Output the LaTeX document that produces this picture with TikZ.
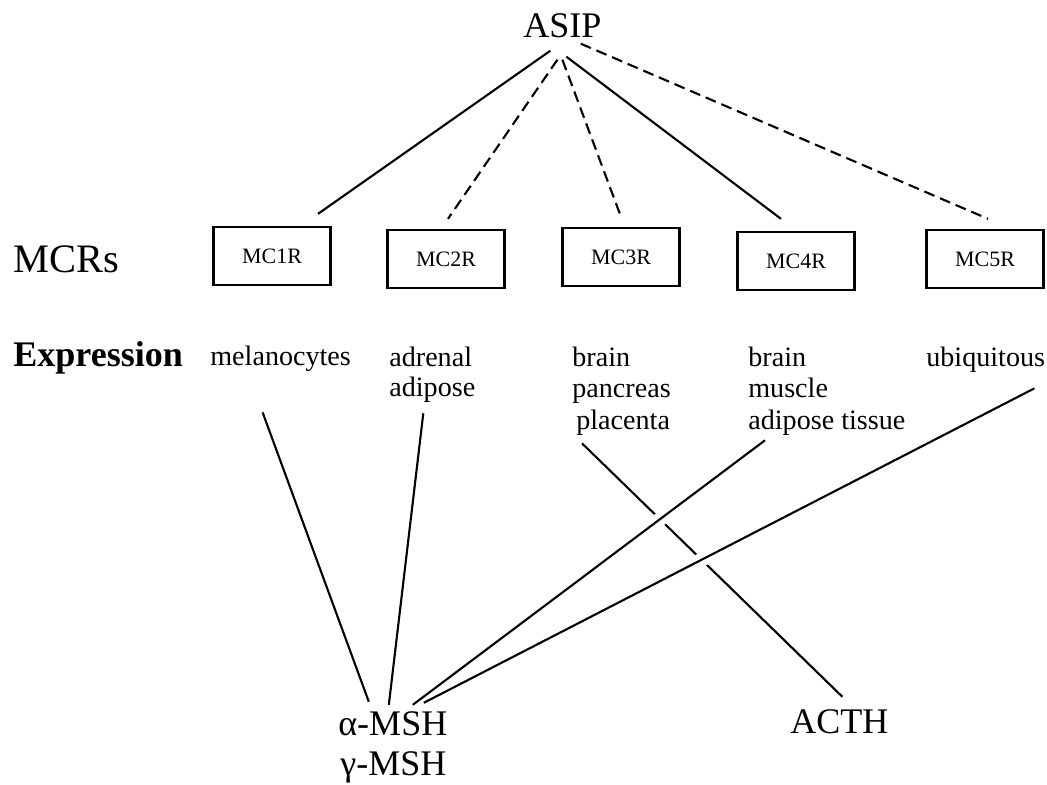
\documentclass[tikz,border=0pt]{standalone}
\usepackage{fontspec}
\setmainfont{Liberation Serif}
\usetikzlibrary{calc, positioning}

\tikzset{
  receptor/.style={draw, line width=1.3pt, minimum width=23.4mm, minimum height=11.6mm,
    inner sep=0pt, font=\fontsize{12.5}{15}\selectfont},
  bigtext/.style={inner sep=0pt, anchor=base west, font=\fontsize{20.5}{24}\selectfont},
  tissue/.style={inner sep=0pt, anchor=base west, font=\fontsize{16}{19}\selectfont},
  link/.style={line width=1.2pt},
  weak/.style={line width=1.2pt, dash pattern=on 2.2mm off 1.2mm},
  bridge/.style={draw=white, line width=2.8mm},
}

\begin{document}
\begin{tikzpicture}[x=0.2mm, y=-0.2mm]
    \useasboundingbox (0,0) rectangle (1047,785);

    % 1. Antagonist and receptors
    \node[bigtext] (asip) at (523,38) {ASIP};
    \node[bigtext, font=\fontsize{23}{27}\selectfont] (mcrs) at (13,273) {MCRs};
    \node[receptor] (mc1r) at (272,256) {MC1R};
    \node[receptor] (mc2r) at (446,259) {MC2R};
    \node[receptor] (mc3r) at (621,257) {MC3R};
    \node[receptor] (mc4r) at (796,261) {MC4R};
    \node[receptor] (mc5r) at (985,259) {MC5R};

    % 2. Expression sites
    \node[bigtext, font=\fontsize{20.5}{24}\selectfont\bfseries] (expr) at (13,367) {Expression};
    \node[tissue] (mela) at (210,366) {melanocytes};
    \node[tissue] (adrenal) at (389,367) {adrenal};
    \node[tissue] (adipose) at (389,397) {adipose};
    \node[tissue] (brainA) at (572,367) {brain};
    \node[tissue] (pancreas) at (572,398) {pancreas};
    \node[tissue] (placenta) at (576,430) {placenta};
    \node[tissue] (brainB) at (748,367) {brain};
    \node[tissue] (muscle) at (748,398) {muscle};
    \node[tissue] (adtissue) at (748,430) {adipose tissue};
    \node[tissue] (ubiq) at (926,367) {ubiquitous};

    % 3. Ligands
    \node[bigtext] (amsh) at (338,735) {α-MSH};
    \node[bigtext] (gmsh) at (340,775) {γ-MSH};
    \node[bigtext] (acth) at (790,733) {ACTH};

    % ASIP to the receptors
    \draw[link] ($(asip.south)+(-12,12)$) -- ($(mc1r.north)+(46,-12)$);
    \draw[weak] ($(asip.south)+(-5,21)$) -- ($(mc2r.north)+(2,-10)$);
    \draw[weak] ($(asip.south)+(0,21)$) -- ($(mc3r.north)+(0,-10)$);
    \draw[link] ($(asip.south)+(4,18)$) -- ($(mc4r.north)+(-15,-12)$);
    \draw[weak] ($(asip.south east)+(-21,5)$) -- ($(mc5r.north)+(3,-10)$);

    % ACTH line, broken where the others cross it
    \draw[link] ($(placenta.south west)+(6,7)$) -- ($(acth.north)+(3,-12)$);
    \draw[bridge, shorten <=18mm, shorten >=50mm]
        ($(adtissue.south west)+(17,4)$) -- ($(amsh.north)+(20,-6)$);
    \draw[bridge, shorten <=60mm, shorten >=50mm]
        ($(ubiq.south east)+(-11,15)$) -- ($(amsh.north)+(31,-8)$);

    % tissues to alpha-MSH
    \draw[link] ($(mela.south)+(-18,40)$) -- ($(amsh.north)+(-24,-9)$);
    \draw[link] ($(adipose.south)+(-9,10)$) -- ($(amsh.north)+(-4,-6)$);
    \draw[link] ($(adtissue.south west)+(17,4)$) -- ($(amsh.north)+(20,-6)$);
    \draw[link] ($(ubiq.south east)+(-11,15)$) -- ($(amsh.north)+(31,-8)$);
\end{tikzpicture}
\end{document}
